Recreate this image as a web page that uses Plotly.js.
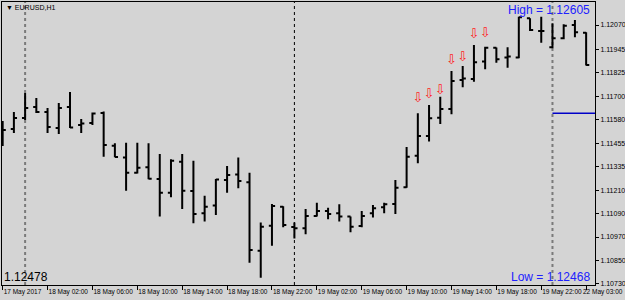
<!DOCTYPE html>
<html>
<head>
<meta charset="utf-8">
<script src="https://cdn.plot.ly/plotly-3.0.1.min.js"></script>
<style>html,body{margin:0;padding:0;background:#d4d4d4;overflow:hidden;}#chart{width:625px;height:300px;}</style>
</head>
<body>
<div id="chart"></div>
<script>
// Bar index (H1 bars from 17 May 2017 22:00 to 22 May 03:00)
var barIndex = [];
for (var i = 0; i < 53; i++) barIndex.push(i);

var openP = [1.11520,1.11530,1.11588,1.11645,1.11619,1.11536,1.11645,1.11551,1.11562,1.11614,
             1.11444,1.11382,1.11304,1.11332,1.11271,1.11200,1.11361,1.11209,1.11093,1.11133,
             1.11266,1.11295,1.11254,1.10899,1.11029,1.11127,1.11022,1.11015,1.11079,1.11105,
             1.11093,1.11076,1.11027,1.11093,1.11124,1.11141,1.11228,1.11392,1.11494,1.11589,
             1.11634,1.11785,1.11790,1.11880,1.11952,1.11902,1.11902,1.12105,1.12039,1.11954,
             1.12001,1.12070,1.12030];
var highP = [1.11572,1.11619,1.11717,1.11691,1.11639,1.11665,1.11722,1.11582,1.11616,1.11621,
             1.11456,1.11459,1.11459,1.11456,1.11401,1.11373,1.11401,1.11366,1.11184,1.11271,
             1.11339,1.11382,1.11304,1.11046,1.11141,1.11130,1.11046,1.11115,1.11148,1.11122,
             1.11140,1.11077,1.11105,1.11136,1.11148,1.11266,1.11437,1.11612,1.11655,1.11698,
             1.11831,1.11857,1.11966,1.11957,1.11953,1.11954,1.12113,1.12105,1.12113,1.12079,
             1.12074,1.12096,1.12032];
var lowP  = [1.11442,1.11510,1.11577,1.11614,1.11510,1.11505,1.11536,1.11510,1.11551,1.11387,
             1.11384,1.11210,1.11300,1.11270,1.11076,1.11176,1.11115,1.11041,1.11050,1.11084,
             1.11200,1.11223,1.10837,1.10759,1.10925,1.11021,1.10963,1.10984,1.11076,1.11062,
             1.11050,1.10995,1.11021,1.11072,1.11093,1.11090,1.11226,1.11353,1.11465,1.11556,
             1.11607,1.11747,1.11776,1.11840,1.11874,1.11848,1.11897,1.12039,1.11978,1.11949,
             1.11996,1.12006,1.11860];
var closeP = [1.11525,1.11588,1.11639,1.11619,1.11541,1.11639,1.11538,1.11559,1.11611,1.11448,
             1.11385,1.11304,1.11330,1.11273,1.11200,1.11366,1.11210,1.11090,1.11127,1.11269,
             1.11292,1.11261,1.10903,1.11024,1.11131,1.11032,1.11015,1.11079,1.11105,1.11090,
             1.11076,1.11024,1.11079,1.11119,1.11140,1.11226,1.11387,1.11494,1.11586,1.11634,
             1.11780,1.11793,1.11877,1.11952,1.11892,1.11906,1.12110,1.12044,1.12039,1.12001,
             1.12066,1.12032,1.11862];

// Sell-signal arrows
var arrowBars = [37, 38, 39, 40, 41, 42, 43];
var arrowPrices = [1.11685, 1.11710, 1.11729, 1.11883, 1.11900, 1.12018, 1.12023];

// Level line
var levelBars = [49, 52.79];
var levelPrices = [1.11612, 1.11612];

// Separators
var separatorBars = [2, 49];
var markerLineBar = 26;

// Axis ticks
var xTickVals = [0, 4, 8, 12, 16, 20, 24, 28, 32, 36, 40, 44, 48, 52];
var xTickText = ['17 May 2017','18 May 02:00','18 May 06:00','18 May 10:00','18 May 14:00',
                 '18 May 18:00','18 May 22:00','19 May 02:00','19 May 06:00','19 May 10:00',
                 '19 May 14:00','19 May 18:00','19 May 22:00','22 May 03:00'];
var yTickVals = [1.12070,1.11945,1.11825,1.11700,1.11580,1.11455,1.11335,1.11210,1.11090,1.10970,1.10850,1.10730];
var yTickText = yTickVals.map(function(v){ return v.toFixed(5); });

var font = 'Liberation Sans, Arial, sans-serif';

// last label is drawn as an annotation so it stays inside the picture
var shownTickText = xTickText.slice(0, xTickText.length - 1).concat(['']);
var lastLabel = xTickText[xTickText.length - 1];

var traces = [
  {
    type: 'ohlc', x: barIndex, open: openP, high: highP, low: lowP, close: closeP,
    increasing: {line: {color: '#000000', width: 2}},
    decreasing: {line: {color: '#000000', width: 2}},
    tickwidth: 0.28, hoverinfo: 'none', showlegend: false
  },
  {
    type: 'scatter', mode: 'lines', x: levelBars, y: levelPrices,
    line: {color: '#0000c8', width: 1.5}, hoverinfo: 'none', showlegend: false
  },
  {
    type: 'scatter', mode: 'text', x: arrowBars, y: arrowPrices,
    text: arrowBars.map(function(){ return '\u21E9'; }),
    textfont: {family: 'DejaVu Sans', size: 13, color: '#ff2020'},
    textposition: 'middle center', hoverinfo: 'none', showlegend: false
  }
];

var shapes = separatorBars.map(function(b){
  return {type: 'line', xref: 'x', yref: 'paper', x0: b, x1: b, y0: 0, y1: 1, layer: 'below',
          line: {color: '#7a7a7a', width: 2, dash: 'dot'}};
});
shapes.push({type: 'line', xref: 'x', yref: 'paper', x0: markerLineBar, x1: markerLineBar, y0: 0, y1: 1,
             layer: 'below', line: {color: '#000000', width: 1, dash: 'dot'}});

var layout = {
  width: 625, height: 300,
  margin: {l: 2, r: 30, t: 2, b: 15, pad: 0},
  paper_bgcolor: '#d4d4d4', plot_bgcolor: '#d4d4d4',
  showlegend: false, hovermode: false,
  xaxis: {
    range: [-0.06, 52.79], tickvals: xTickVals, ticktext: shownTickText,
    tickangle: 0,
    ticks: 'outside', ticklen: 4, tickcolor: '#000', tickwidth: 1,
    ticklabelposition: 'outside right', ticklabeloverflow: 'allow',
    tickfont: {family: font, size: 6.5, color: '#000'},
    showgrid: false, zeroline: false,
    showline: true, linecolor: '#000', linewidth: 1, mirror: true,
    rangeslider: {visible: false}, fixedrange: true
  },
  yaxis: {
    range: [1.107212, 1.121893], side: 'right',
    tickvals: yTickVals, ticktext: yTickText,
    ticks: 'outside', ticklen: 3, tickcolor: '#000', tickwidth: 1,
    tickfont: {family: font, size: 7, color: '#000'},
    showgrid: false, zeroline: false,
    showline: true, linecolor: '#000', linewidth: 1, mirror: true, fixedrange: true
  },
  shapes: shapes,
  annotations: [
    {xref: 'paper', yref: 'paper', x: 0.004, y: 1, xanchor: 'left', yanchor: 'top', showarrow: false,
     text: '\u25BC EURUSD,H1', font: {family: font, size: 7, color: '#000'}, borderpad: 1},
    {xref: 'paper', yref: 'paper', x: 0.9933, y: 1, xanchor: 'right', yanchor: 'top', showarrow: false,
     text: 'High = 1.12605', font: {family: font, size: 12, color: '#2020ff'}, borderpad: 0},
    {xref: 'paper', yref: 'paper', x: 0.9933, y: 0, xanchor: 'right', yanchor: 'bottom', showarrow: false,
     text: 'Low = 1.12468', font: {family: font, size: 12, color: '#2020ff'}, borderpad: 0},
    {xref: 'paper', yref: 'paper', x: 0.002, y: 0, xanchor: 'left', yanchor: 'bottom', showarrow: false,
     text: '1.12478', font: {family: font, size: 12, color: '#000'}, borderpad: 0},
    {xref: 'paper', yref: 'paper', x: 1.0497, y: 0, xanchor: 'right', yanchor: 'middle', yshift: -7,
     showarrow: false, text: lastLabel, font: {family: font, size: 6.5, color: '#000'}, borderpad: 0}
  ]
};

Plotly.newPlot('chart', traces, layout, {displayModeBar: false, staticPlot: true});
</script>
</body>
</html>
